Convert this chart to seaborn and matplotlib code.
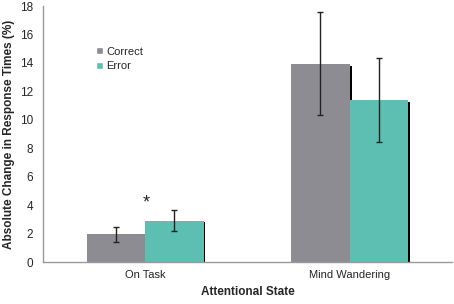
import pandas as pd
import matplotlib
matplotlib.use("Agg")
import matplotlib.pyplot as plt
import matplotlib.patheffects as pe
import seaborn as sns

estados = ["On Task", "Mind Wandering"]
tipos = ["Correct", "Error"]
valores_correct = [1.95, 13.95]
valores_error = [2.92, 11.38]
erro_correct = [0.52, 3.6]
erro_error = [0.76, 2.95]

df = pd.DataFrame({
    "Estado": estados * 2,
    "Tipo": [tipos[0]] * 2 + [tipos[1]] * 2,
    "Valor": valores_correct + valores_error,
})

sns.set_style("white")
plt.rcParams["font.family"] = ["Liberation Sans", "DejaVu Sans"]

fig = plt.figure(figsize=(4.54, 3.04), dpi=100)
ax = fig.add_axes([0.095, 0.138, 0.9, 0.842])

cores = ["#8e8c93", "#5dbfb1"]
sns.barplot(data=df, x="Estado", y="Valor", hue="Tipo", order=estados,
            hue_order=tipos, palette=cores, errorbar=None, width=0.57,
            saturation=1, ax=ax)

sombra = [pe.SimplePatchShadow(offset=(1.4, -1.4), shadow_rgbFace="black", alpha=1),
          pe.Normal()]
erros = [erro_correct, erro_error]
for cont, err in zip(ax.containers, erros):
    for barra, e in zip(cont, err):
        barra.set_path_effects(sombra)
        barra.set_edgecolor("none")
        cx = barra.get_x() + barra.get_width() / 2
        ax.errorbar(cx, barra.get_height(), yerr=e, fmt="none", ecolor="#222222",
                    elinewidth=1, capsize=2.5, capthick=1, zorder=5)

ax.text(ax.containers[1][0].get_x() + ax.containers[1][0].get_width() / 2 - 0.14, 3.55,
        "*", ha="center", va="bottom", fontsize=13)

ax.set_ylim(0, 18)
ax.set_xlim(-0.5, 1.5)
ax.set_yticks(range(0, 19, 2))
ax.tick_params(axis="y", length=3, direction="out", color="#999999", labelsize=8.5, pad=4)
ax.tick_params(axis="x", length=0, labelsize=8, pad=6)
for s in ["top", "right"]:
    ax.spines[s].set_visible(False)
for s in ["left", "bottom"]:
    ax.spines[s].set_color("#999999")
    ax.spines[s].set_linewidth(1)

ax.set_xlabel("Attentional State", fontsize=8.5, fontweight="bold", labelpad=4)
ax.set_ylabel("Absolute Change in Response Times (%)", fontsize=8.5, fontweight="bold", labelpad=4)

leg = ax.legend(loc="upper left", bbox_to_anchor=(0.105, 0.88), frameon=False,
                fontsize=8, handlelength=0.6, handleheight=0.6, handletextpad=0.3,
                labelspacing=0.4)
for h in leg.legend_handles:
    h.set_path_effects([])

fig.savefig("out.png", dpi=100)
